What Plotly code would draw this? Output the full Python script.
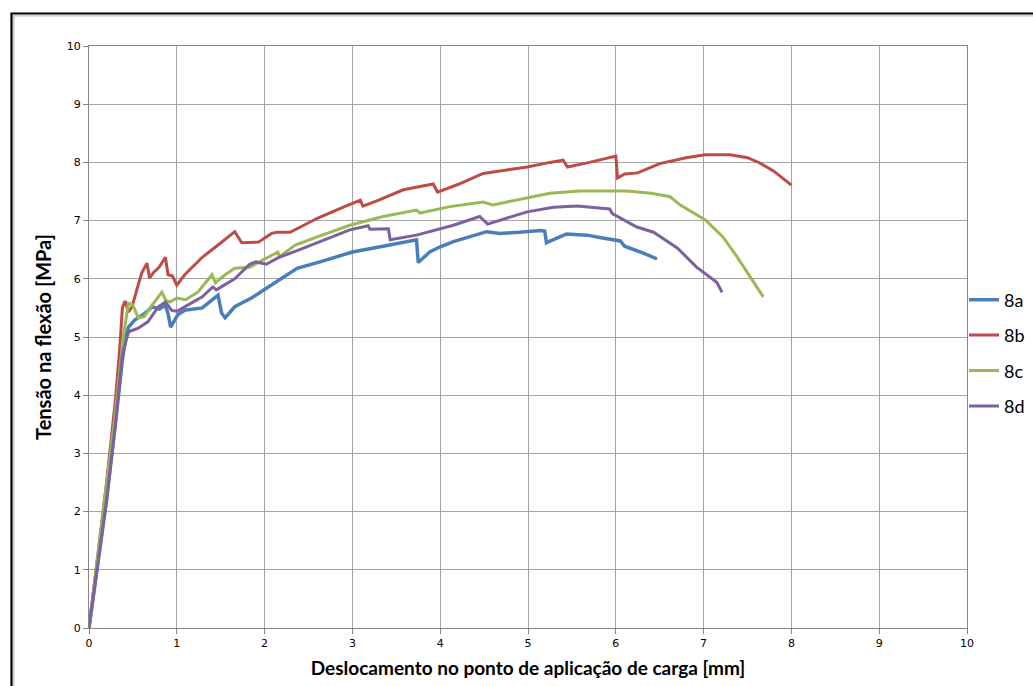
import plotly.graph_objects as go

# ---- data ----
x_8a = [0, 0.1, 0.2, 0.3, 0.38, 0.42, 0.45, 0.52, 0.64, 0.72, 0.8, 0.87, 0.9, 0.93, 1.01, 1.09, 1.29, 1.47, 1.49,
        1.51, 1.55, 1.66, 1.85, 2.04, 2.23, 2.37, 2.63, 3.0, 3.35, 3.69, 3.73, 3.75, 3.88, 4.0, 4.15, 4.53, 4.68,
        4.9, 5.14, 5.19, 5.21, 5.44, 5.67, 5.85, 5.97, 6.05, 6.1, 6.3, 6.47]
y_8a = [0, 1.1, 2.2, 3.5, 4.6, 5.0, 5.17, 5.29, 5.41, 5.52, 5.48, 5.55, 5.4, 5.17, 5.38, 5.46, 5.5, 5.72, 5.55,
        5.41, 5.33, 5.52, 5.67, 5.85, 6.03, 6.18, 6.29, 6.46, 6.56, 6.67, 6.67, 6.28, 6.46, 6.55, 6.64, 6.81, 6.78,
        6.8, 6.83, 6.82, 6.62, 6.77, 6.75, 6.7, 6.67, 6.65, 6.56, 6.45, 6.34]

x_8b = [0, 0.1, 0.2, 0.3, 0.35, 0.38, 0.41, 0.45, 0.49, 0.55, 0.6, 0.66, 0.69, 0.73, 0.8, 0.87, 0.9, 0.95, 1.0,
        1.09, 1.29, 1.47, 1.66, 1.74, 1.83, 1.93, 2.08, 2.14, 2.29, 2.6, 2.85, 3.09, 3.12, 3.3, 3.58, 3.92, 3.97,
        4.2, 4.49, 4.99, 5.25, 5.4, 5.45, 5.7, 6.0, 6.02, 6.1, 6.25, 6.5, 6.8, 7.02, 7.3, 7.5, 7.64, 7.8, 8.0]
y_8b = [0, 1.25, 2.5, 3.9, 4.8, 5.5, 5.62, 5.43, 5.52, 5.84, 6.1, 6.27, 6.01, 6.1, 6.2, 6.37, 6.07, 6.05, 5.89,
        6.07, 6.37, 6.58, 6.81, 6.62, 6.63, 6.63, 6.78, 6.8, 6.8, 7.04, 7.2, 7.35, 7.25, 7.35, 7.53, 7.63, 7.49,
        7.62, 7.81, 7.92, 8.0, 8.04, 7.92, 8.0, 8.11, 7.73, 7.8, 7.82, 7.98, 8.08, 8.13, 8.13, 8.08, 7.99, 7.85, 7.61]

x_8c = [0, 0.1, 0.2, 0.3, 0.39, 0.45, 0.5, 0.56, 0.63, 0.72, 0.83, 0.87, 0.92, 1.0, 1.1, 1.24, 1.4, 1.44, 1.55,
        1.66, 1.83, 2.04, 2.15, 2.17, 2.35, 2.6, 2.97, 3.35, 3.73, 3.77, 4.11, 4.49, 4.6, 5.25, 5.59, 6.13, 6.4,
        6.62, 6.73, 7.02, 7.22, 7.38, 7.53, 7.68]
y_8c = [0, 1.2, 2.4, 3.7, 5.0, 5.58, 5.55, 5.33, 5.35, 5.55, 5.77, 5.64, 5.6, 5.67, 5.64, 5.77, 6.07, 5.93, 6.07,
        6.18, 6.2, 6.37, 6.46, 6.38, 6.58, 6.72, 6.92, 7.07, 7.18, 7.13, 7.24, 7.32, 7.27, 7.47, 7.51, 7.51, 7.47,
        7.41, 7.27, 7.01, 6.72, 6.38, 6.03, 5.69]

x_8d = [0, 0.1, 0.2, 0.3, 0.38, 0.45, 0.56, 0.67, 0.79, 0.87, 0.94, 1.0, 1.09, 1.29, 1.41, 1.45, 1.66, 1.83, 1.9,
        2.02, 2.15, 2.4, 2.97, 3.18, 3.2, 3.41, 3.43, 3.73, 4.15, 4.45, 4.54, 4.99, 5.29, 5.56, 5.93, 5.96, 6.24,
        6.43, 6.7, 6.92, 7.15, 7.21]
y_8d = [0, 1.1, 2.2, 3.5, 4.7, 5.09, 5.15, 5.26, 5.52, 5.6, 5.46, 5.44, 5.52, 5.69, 5.86, 5.81, 6.0, 6.25, 6.29,
        6.25, 6.36, 6.5, 6.84, 6.91, 6.85, 6.86, 6.67, 6.75, 6.92, 7.07, 6.94, 7.15, 7.23, 7.25, 7.2, 7.12, 6.89,
        6.8, 6.53, 6.2, 5.94, 5.77]

series_names = ["8a", "8b", "8c", "8d"]
x_title = "Deslocamento no ponto de aplicação de carga [mm]"
y_title = "Tensão na flexão [MPa]"

colors = ["#4A7EBB", "#BE4B48", "#98B954", "#7D60A0"]
widths = [3.5, 3, 3, 3]

fig = go.Figure()
for name, xs, ys, c, w in zip(series_names, [x_8a, x_8b, x_8c, x_8d], [y_8a, y_8b, y_8c, y_8d], colors, widths):
    fig.add_trace(go.Scatter(x=xs, y=ys, mode="lines", name=name, legendgroup=name,
                             line=dict(color=c, width=w)))

W, H = 1033, 686
ml, mr, mt, mb = 89, 66, 46, 58
pw, ph = W - ml - mr, H - mt - mb

def px_to_paper_x(p):
    return (p - ml) / pw

def px_to_paper_y(p):
    return (H - mb - p) / ph

grid_col = "#A6A6A6"
fig.update_layout(
    width=W, height=H,
    margin=dict(l=ml, r=mr, t=mt, b=mb, autoexpand=False),
    paper_bgcolor="white", plot_bgcolor="white",
    font=dict(family="DejaVu Sans", size=11, color="#000000"),
    showlegend=True,
    legend=dict(x=px_to_paper_x(964), y=px_to_paper_y(353), xanchor="left", yanchor="middle",
                font=dict(family="Lato", size=18, color="#000000"),
                itemwidth=30, tracegroupgap=9, bgcolor="rgba(0,0,0,0)"),
    xaxis=dict(range=[0, 10], dtick=1, tick0=0, showgrid=True, gridcolor=grid_col, gridwidth=1.3,
               showline=True, linecolor="#878787", linewidth=1.3, mirror=True,
               ticks="outside", ticklen=5, tickcolor="#878787", zeroline=False,
               tickfont=dict(family="DejaVu Sans", size=11),
               title=dict(text="<b>" + x_title + "</b>", font=dict(family="Lato", size=19), standoff=12)),
    yaxis=dict(range=[0, 10], dtick=1, tick0=0, showgrid=True, gridcolor=grid_col, gridwidth=1.3,
               showline=True, linecolor="#878787", linewidth=1.3, mirror=True,
               ticks="outside", ticklen=5, tickcolor="#878787", zeroline=False,
               tickfont=dict(family="DejaVu Sans", size=11),
               title=dict(text="<b>" + y_title + "</b>", font=dict(family="Lato", size=20), standoff=9)),
)

# outer chart frame (only left and top visible in the crop)
fig.add_shape(type="rect", xref="paper", yref="paper",
              x0=px_to_paper_x(11.5), y0=px_to_paper_y(720), x1=px_to_paper_x(1060), y1=px_to_paper_y(13.5),
              line=dict(color="#000000", width=2.2), fillcolor="rgba(0,0,0,0)", layer="below")
fig.add_shape(type="rect", xref="paper", yref="paper",
              x0=px_to_paper_x(13.8), y0=px_to_paper_y(720), x1=px_to_paper_x(1060), y1=px_to_paper_y(15.8),
              line=dict(color="#BFBFBF", width=1.2), fillcolor="rgba(0,0,0,0)", layer="below")

fig.write_html("out.html", config={"displayModeBar": False},
               post_script="document.body.style.margin='0';document.body.style.overflow='hidden';")
